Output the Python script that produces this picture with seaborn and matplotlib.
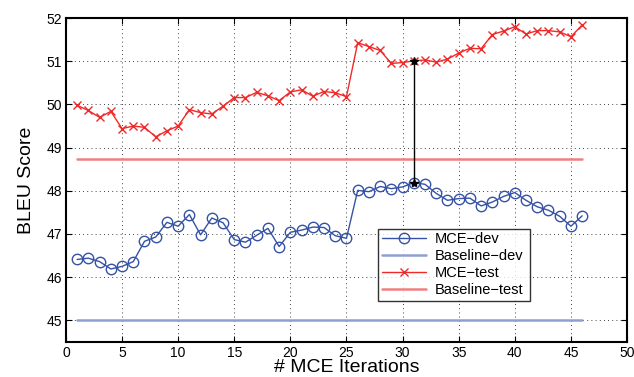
import numpy as np
import pandas as pd
import matplotlib
matplotlib.use("Agg")
import matplotlib.pyplot as plt
import seaborn as sns

# values
iterations = list(range(1, 47))
mce_dev = [46.41, 46.44, 46.36, 46.19, 46.25, 46.36, 46.83, 46.93, 47.27, 47.18,
           47.45, 46.98, 47.37, 47.26, 46.87, 46.81, 46.97, 47.13, 46.71, 47.04,
           47.09, 47.16, 47.15, 46.96, 46.90, 48.01, 47.98, 48.10, 48.05, 48.09,
           48.19, 48.15, 47.94, 47.78, 47.82, 47.83, 47.65, 47.74, 47.87, 47.96,
           47.78, 47.63, 47.55, 47.41, 47.18, 47.42]
mce_test = [49.98, 49.86, 49.70, 49.84, 49.44, 49.50, 49.47, 49.25, 49.39, 49.50,
            49.88, 49.81, 49.78, 49.96, 50.16, 50.16, 50.28, 50.20, 50.09, 50.29,
            50.34, 50.19, 50.30, 50.27, 50.18, 51.43, 51.34, 51.25, 50.95, 50.97,
            51.01, 51.03, 50.98, 51.05, 51.19, 51.30, 51.29, 51.62, 51.70, 51.80,
            51.63, 51.71, 51.71, 51.68, 51.57, 51.84]
baseline_dev = 45.0
baseline_test = 48.73
best_iter = 31

BLUE = "#3552a6"
RED = "#ee2a2a"

df = pd.DataFrame({"iter": iterations, "dev": mce_dev, "test": mce_test})
df["base_dev"] = baseline_dev
df["base_test"] = baseline_test

sns.set_style("ticks")
plt.rcParams["font.family"] = ["Liberation Sans", "DejaVu Sans"]
plt.rcParams["text.color"] = "black"
plt.rcParams["axes.labelcolor"] = "black"
plt.rcParams["xtick.color"] = "black"
plt.rcParams["ytick.color"] = "black"

fig = plt.figure(figsize=(6.34, 3.77), dpi=100)
ax = fig.add_axes([0.104, 0.093, 0.885, 0.859])

sns.lineplot(data=df, x="iter", y="dev", ax=ax, color=BLUE, lw=1.0,
             marker="o", markersize=7.5, markerfacecolor="none",
             markeredgecolor=BLUE, markeredgewidth=1.0, label="MCE\u2212dev")
sns.lineplot(data=df, x="iter", y="base_dev", ax=ax, color="#8f9fd0", lw=1.8,
             label="Baseline\u2212dev")
sns.lineplot(data=df, x="iter", y="test", ax=ax, color=RED, lw=1.0,
             marker="x", markersize=6, markeredgecolor=RED,
             markeredgewidth=1.0, label="MCE\u2212test")
sns.lineplot(data=df, x="iter", y="base_test", ax=ax, color="#f08080", lw=1.8,
             label="Baseline\u2212test")

# best iteration marker
best = df[df["iter"] == best_iter]
ax.plot([best_iter, best_iter], [best["dev"].iloc[0], best["test"].iloc[0]],
        color="black", lw=1.0, marker="*", markersize=6)

ax.set_xlim(0, 50)
ax.set_ylim(44.5, 52)
ax.set_xticks(range(0, 51, 5))
ax.set_yticks(range(45, 53))
ax.grid(True, color="black", linestyle=(0, (1, 4)), linewidth=0.6)
ax.tick_params(direction="in", labelsize=10, top=True, right=True, length=4,
               pad=3)
for s in ax.spines.values():
    s.set_linewidth(1.5)
    s.set_color("black")

ax.set_xlabel("# MCE Iterations", fontsize=14, labelpad=-1)
ax.set_ylabel("BLEU Score", fontsize=14, labelpad=8)

handles, labels = ax.get_legend_handles_labels()
leg = ax.legend(handles[:4], labels[:4], loc="lower left",
                bbox_to_anchor=(0.544, 0.105, 0.296, 0.25), mode="expand",
                fontsize=10.5, frameon=True, fancybox=False, edgecolor="black",
                handlelength=3.0, handletextpad=0.6, borderpad=0.25,
                labelspacing=0.2)
leg.get_frame().set_linewidth(1.0)

fig.savefig("out.png", dpi=100)
